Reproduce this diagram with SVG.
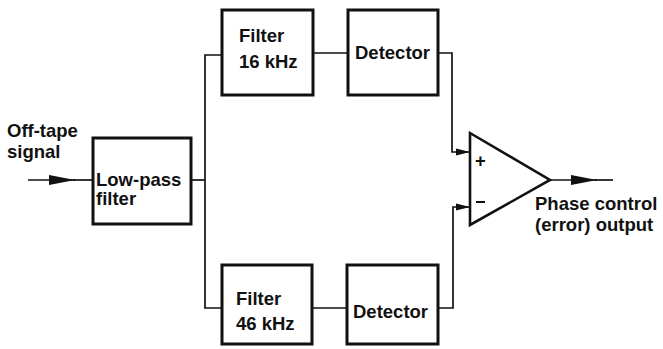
<svg xmlns="http://www.w3.org/2000/svg" width="663" height="349" viewBox="0 0 663 349">
<defs>
<style>
.box{fill:#fff;stroke:#111;stroke-width:3}
.ln{fill:none;stroke:#111;stroke-width:1.7}
.t{font-family:"Liberation Sans",Arial,sans-serif;font-weight:bold;font-size:18.5px;fill:#111}
</style>
<marker id="ah" markerWidth="26" markerHeight="12" refX="26" refY="6" orient="auto" markerUnits="userSpaceOnUse">
<path d="M0,1 L26,6 L0,11 Z" fill="#111"/>
</marker>
<marker id="ahs" markerWidth="14" markerHeight="8" refX="14" refY="4" orient="auto" markerUnits="userSpaceOnUse">
<path d="M0,0.5 L14,4 L0,7.5 Z" fill="#111"/>
</marker>
</defs>
<rect width="663" height="349" fill="#fff"/>
<g id="connectors">
<line class="ln" x1="28" y1="180" x2="75" y2="180" marker-end="url(#ah)"/>
<line class="ln" x1="73" y1="180" x2="93" y2="180"/>
<line class="ln" x1="191" y1="180" x2="205" y2="180"/>
<polyline class="ln" points="222,55 205,55 205,308 222,308"/>
<line class="ln" x1="313" y1="53" x2="348" y2="53"/>
<line class="ln" x1="312" y1="308" x2="347" y2="308"/>
<polyline class="ln" points="438,53 452,53 452,152 470,152" marker-end="url(#ahs)"/>
<polyline class="ln" points="438,308 453,308 453,207 470,207" marker-end="url(#ahs)"/>
<line class="ln" x1="550" y1="180" x2="597" y2="180" marker-end="url(#ah)"/>
<line class="ln" x1="595" y1="180" x2="613" y2="180"/>
</g>
<g id="input-label">
<text class="t" x="7" y="137">Off-tape</text>
<text class="t" x="7" y="158">signal</text>
</g>
<g id="lowpass">
<rect class="box" x="93" y="138" width="98" height="86"/>
<text class="t" x="96" y="186">Low-pass</text>
<text class="t" x="96" y="205">filter</text>
</g>
<g id="filter16">
<rect class="box" x="222" y="10" width="91" height="85"/>
<text class="t" x="239" y="42">Filter</text>
<text class="t" x="239" y="68">16 kHz</text>
</g>
<g id="detector1">
<rect class="box" x="348" y="10" width="90" height="85"/>
<text class="t" x="355" y="59">Detector</text>
</g>
<g id="filter46">
<rect class="box" x="222" y="265" width="90" height="79"/>
<text class="t" x="236" y="305">Filter</text>
<text class="t" x="236" y="330">46 kHz</text>
</g>
<g id="detector2">
<rect class="box" x="347" y="265" width="91" height="79"/>
<text class="t" x="353" y="318">Detector</text>
</g>
<g id="amplifier">
<polygon points="470,133 550,180 470,225" fill="#fff" stroke="#111" stroke-width="2.6" stroke-linejoin="miter"/>
<text class="t" x="475" y="167" font-size="15">+</text>
<line x1="476" y1="202" x2="485" y2="202" stroke="#111" stroke-width="2"/>
</g>
<g id="output-label">
<text class="t" x="535" y="210">Phase control</text>
<text class="t" x="535" y="231">(error) output</text>
</g>
</svg>
